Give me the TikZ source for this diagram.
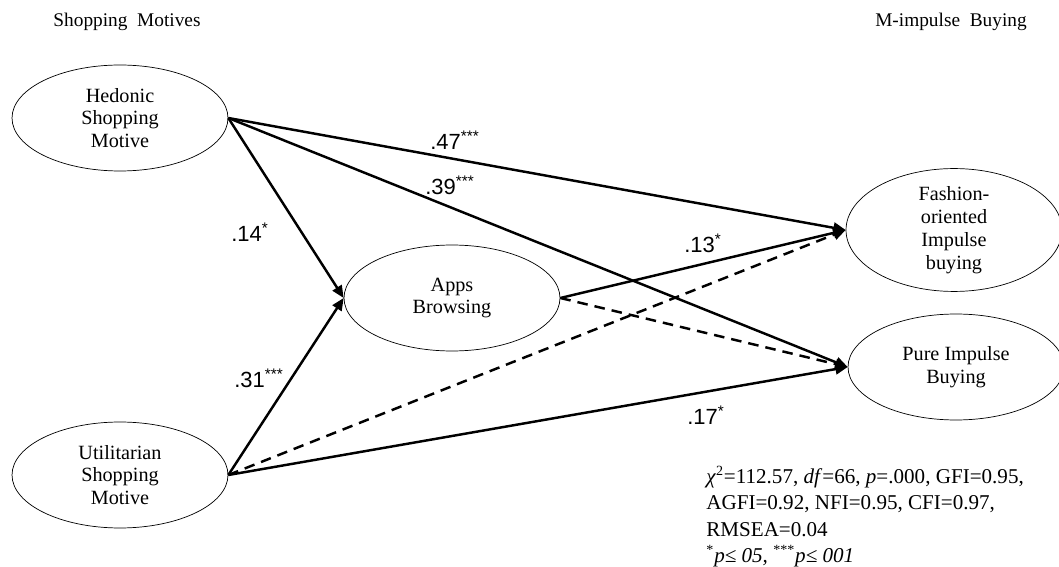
\documentclass[tikz,border=0pt]{standalone}
\usepackage{fontspec}
\setmainfont{Liberation Serif}
\newfontfamily\labelfont{Liberation Sans}
\usetikzlibrary{shapes, arrows.meta, positioning}

\begin{document}
\begin{tikzpicture}[x=0.02cm, y=-0.02cm,
          construct/.style={ellipse, draw, thin, minimum width=4.32cm, minimum height=2.12cm, inner sep=0pt, align=center, font=\fontsize{11.5}{13}\selectfont},
          path/.style={line width=1.4pt, -{Triangle[length=7pt, width=6pt]}},
          nopath/.style={path, dashed, dash pattern=on 6pt off 4pt},
          coef/.style={font=\labelfont\fontsize{12.5}{14}\selectfont},
          heading/.style={font=\fontsize{11}{12}\selectfont}
        ]
          \useasboundingbox (0,0) rectangle (1059,567);

          \node [heading] at (127,22) {Shopping\ \ Motives};
          \node [heading] at (951,22) {M-impulse\ \ Buying};

          \node (hed) [construct] at (120,118) {Hedonic\\Shopping\\Motive};
          \node (uti) [construct] at (120,475) {Utilitarian\\Shopping\\Motive};
          \node (app) [construct] at (452,298) {Apps\\Browsing};
          \node (fas) [construct] at (954,230) {Fashion-\\oriented\\Impulse\\buying};
          \node (pur) [construct] at (956,367) {Pure Impulse\\Buying};

          \draw[path] (hed.east) -- (fas.west);
          \draw[path] (hed.east) -- (pur.west);
          \draw[path] (hed.east) -- (app.west);
          \draw[path] (uti.east) -- (app.west);
          \draw[nopath] (uti.east) -- (fas.west);
          \draw[path] (uti.east) -- (pur.west);
          \draw[path] (app.east) -- (fas.west);
          \draw[nopath] (app.east) -- (pur.west);

          \node [coef] at (455,140) {.47\textsuperscript{***}};
          \node [coef] at (450,185) {.39\textsuperscript{***}};
          \node [coef] at (250,232) {.14\textsuperscript{*}};
          \node [coef] at (259,378) {.31\textsuperscript{***}};
          \node [coef] at (703,243) {.13\textsuperscript{*}};
          \node [coef] at (706,415) {.17\textsuperscript{*}};

          \node (fit) [anchor=north west, align=left, inner sep=0pt, font=\fontsize{12}{15}\selectfont] at (706,466) {\textit{χ}\textsuperscript{2}=112.57, \textit{df}=66, \textit{p}=.000, GFI=0.95,\\AGFI=0.92, NFI=0.95, CFI=0.97,\\RMSEA=0.04\\\textsuperscript{*}\textit{p≤ 05,} \textsuperscript{***}\textit{p≤ 001}};
        \end{tikzpicture}
\end{document}
